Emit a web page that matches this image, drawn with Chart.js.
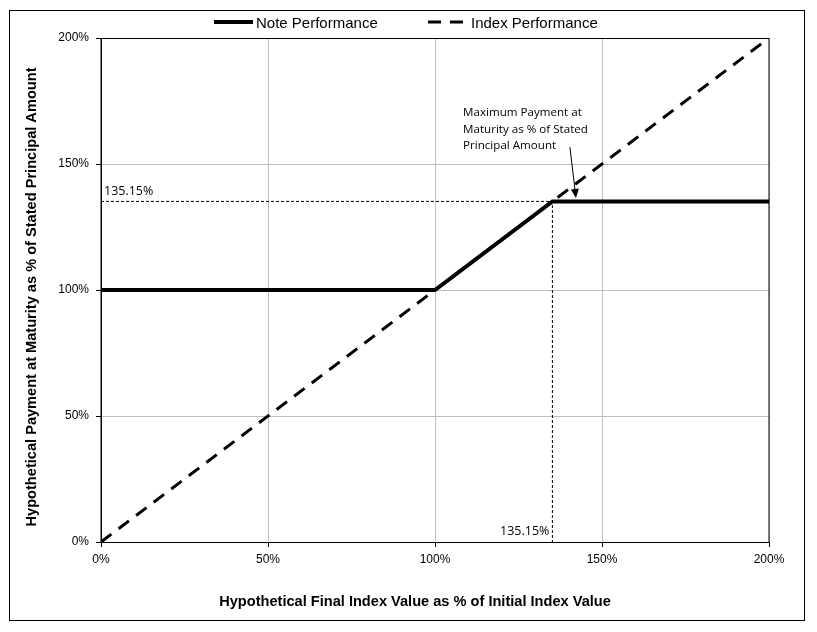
<!DOCTYPE html>
<html>
<head>
<meta charset="utf-8">
<script src="https://cdn.jsdelivr.net/npm/chart.js@4.4.1/dist/chart.umd.min.js"></script>
<style>
  html, body { margin: 0; padding: 0; background: #fff; }
  #wrap { width: 817px; height: 632px; }
</style>
</head>
<body>
<div id="wrap"><canvas id="chart" width="817" height="632"></canvas></div>
<script>
// values (percent of initial / stated amount)
const noteX = [0, 100, 135.15, 200];
const noteY = [100, 100, 135.15, 135.15];
const indexX = [0, 200];
const indexY = [0, 200];
const capLevel = 135.15;
const xTicks = [0, 50, 100, 150, 200];
const yTicks = [0, 50, 100, 150, 200];
const noteLabel = "Note Performance";
const indexLabel = "Index Performance";
const capLabel = "135.15%";
const xTitle = "Hypothetical Final Index Value as % of Initial Index Value";
const yTitle = "Hypothetical Payment at Maturity as % of Stated Principal Amount";
const calloutLines = ["Maximum Payment at", "Maturity as % of Stated", "Principal Amount"];
const calloutAnchor = [108.4, 170.2];
const arrowFrom = [140.4, 156.7];
const arrowTo = [142.2, 136.5];

const toPoints = (xs, ys) => xs.map((x, i) => ({ x, y: ys[i] }));
const titleFont = "bold 14.6px 'Liberation Sans', Arial";

const extras = {
  id: "extras",
  beforeDraw(chart) {
    const ctx = chart.ctx;
    ctx.save();
    ctx.fillStyle = "#fff";
    ctx.fillRect(0, 0, chart.width, chart.height);
    ctx.strokeStyle = "#000";
    ctx.lineWidth = 1;
    ctx.strokeRect(9.5, 10.5, 795, 610);
    ctx.restore();
  },
  afterDraw(chart) {
    const ctx = chart.ctx;
    const xs = chart.scales.x, ys = chart.scales.y;
    const a = chart.chartArea;
    ctx.save();
    // plot frame
    ctx.strokeStyle = "#000";
    ctx.lineWidth = 1;
    ctx.strokeRect(a.left, a.top + 0.5, a.right - a.left, a.bottom - a.top);

    // axis titles
    ctx.fillStyle = "#000";
    ctx.font = titleFont;
    ctx.textAlign = "center";
    ctx.textBaseline = "middle";
    ctx.fillText(xTitle, 415, 602);
    ctx.save();
    ctx.translate(32, 297);
    ctx.rotate(-Math.PI / 2);
    ctx.fillText(yTitle, 0, 0);
    ctx.restore();

    // cap labels
    ctx.font = "12.5px 'Open Sans'";
    ctx.textAlign = "left";
    ctx.fillText(capLabel, xs.getPixelForValue(0) + 3, ys.getPixelForValue(capLevel) - 10);
    ctx.textAlign = "right";
    ctx.fillText(capLabel, xs.getPixelForValue(capLevel) - 3, ys.getPixelForValue(0) - 11);

    // callout
    ctx.font = "11.6px 'Open Sans'";
    ctx.textAlign = "left";
    const cx = xs.getPixelForValue(calloutAnchor[0]);
    const cy = ys.getPixelForValue(calloutAnchor[1]);
    calloutLines.forEach((t, i) => ctx.fillText(t, cx, cy + i * 16.5));

    const x1 = xs.getPixelForValue(arrowFrom[0]), y1 = ys.getPixelForValue(arrowFrom[1]);
    const x2 = xs.getPixelForValue(arrowTo[0]), y2 = ys.getPixelForValue(arrowTo[1]);
    const ang = Math.atan2(y2 - y1, x2 - x1);
    ctx.beginPath();
    ctx.moveTo(x1, y1);
    ctx.lineTo(x2 - 6 * Math.cos(ang), y2 - 6 * Math.sin(ang));
    ctx.stroke();
    ctx.beginPath();
    ctx.moveTo(x2, y2);
    ctx.lineTo(x2 - 9 * Math.cos(ang) + 4 * Math.sin(ang), y2 - 9 * Math.sin(ang) - 4 * Math.cos(ang));
    ctx.lineTo(x2 - 9 * Math.cos(ang) - 4 * Math.sin(ang), y2 - 9 * Math.sin(ang) + 4 * Math.cos(ang));
    ctx.closePath();
    ctx.fill();

    // legend
    const ly = 22;
    ctx.font = "15px 'Liberation Sans', Arial";
    ctx.textAlign = "left";
    ctx.lineWidth = 4;
    ctx.beginPath();
    ctx.moveTo(214, ly);
    ctx.lineTo(253, ly);
    ctx.stroke();
    ctx.fillText(noteLabel, 256, ly + 1.5);
    ctx.lineWidth = 3;
    ctx.setLineDash([13, 9]);
    ctx.beginPath();
    ctx.moveTo(428, ly);
    ctx.lineTo(463, ly);
    ctx.stroke();
    ctx.setLineDash([]);
    ctx.fillText(indexLabel, 471, ly + 1.5);
    ctx.restore();
  },
};

new Chart(document.getElementById("chart").getContext("2d"), {
  type: "scatter",
  data: {
    datasets: [
      {
        label: noteLabel,
        data: toPoints(noteX, noteY),
        showLine: true,
        borderColor: "#000",
        borderWidth: 4,
        pointRadius: 0,
        order: 0,
      },
      {
        label: indexLabel,
        data: toPoints(indexX, indexY),
        showLine: true,
        borderColor: "#000",
        borderWidth: 3,
        borderDash: [13, 9],
        pointRadius: 0,
        order: 1,
      },
      {
        label: "cap",
        data: [{ x: 0, y: capLevel }, { x: capLevel, y: capLevel }, { x: capLevel, y: 0 }],
        showLine: true,
        borderColor: "#000",
        borderWidth: 1,
        borderDash: [3, 2],
        pointRadius: 0,
        order: 2,
      },
    ],
  },
  options: {
    responsive: false,
    animation: false,
    layout: { padding: { left: 20, right: 48, top: 38, bottom: 19 } },
    plugins: { legend: { display: false }, tooltip: { enabled: false } },
    scales: {
      x: {
        type: "linear",
        min: 0,
        max: 200,
        afterBuildTicks: (s) => { s.ticks = xTicks.map((v) => ({ value: v })); },
        afterFit: (s) => { s.height = 632 - 542 - 19; },
        ticks: { color: "#000", font: { family: "'Liberation Sans', Arial", size: 12 }, padding: 5, callback: (v) => v + "%" },
        grid: { color: "#bfbfbf", tickColor: "#000", tickLength: 5 },
        border: { color: "#000" },
      },
      y: {
        type: "linear",
        min: 0,
        max: 200,
        afterBuildTicks: (s) => { s.ticks = yTicks.map((v) => ({ value: v })); },
        afterFit: (s) => { s.width = 101 - 20; },
        ticks: { color: "#000", font: { family: "'Liberation Sans', Arial", size: 12 }, padding: 7, callback: (v) => v + "%" },
        grid: { color: "#bfbfbf", tickColor: "#000", tickLength: 5 },
        border: { color: "#000" },
      },
    },
  },
  plugins: [extras],
});
</script>
</body>
</html>
